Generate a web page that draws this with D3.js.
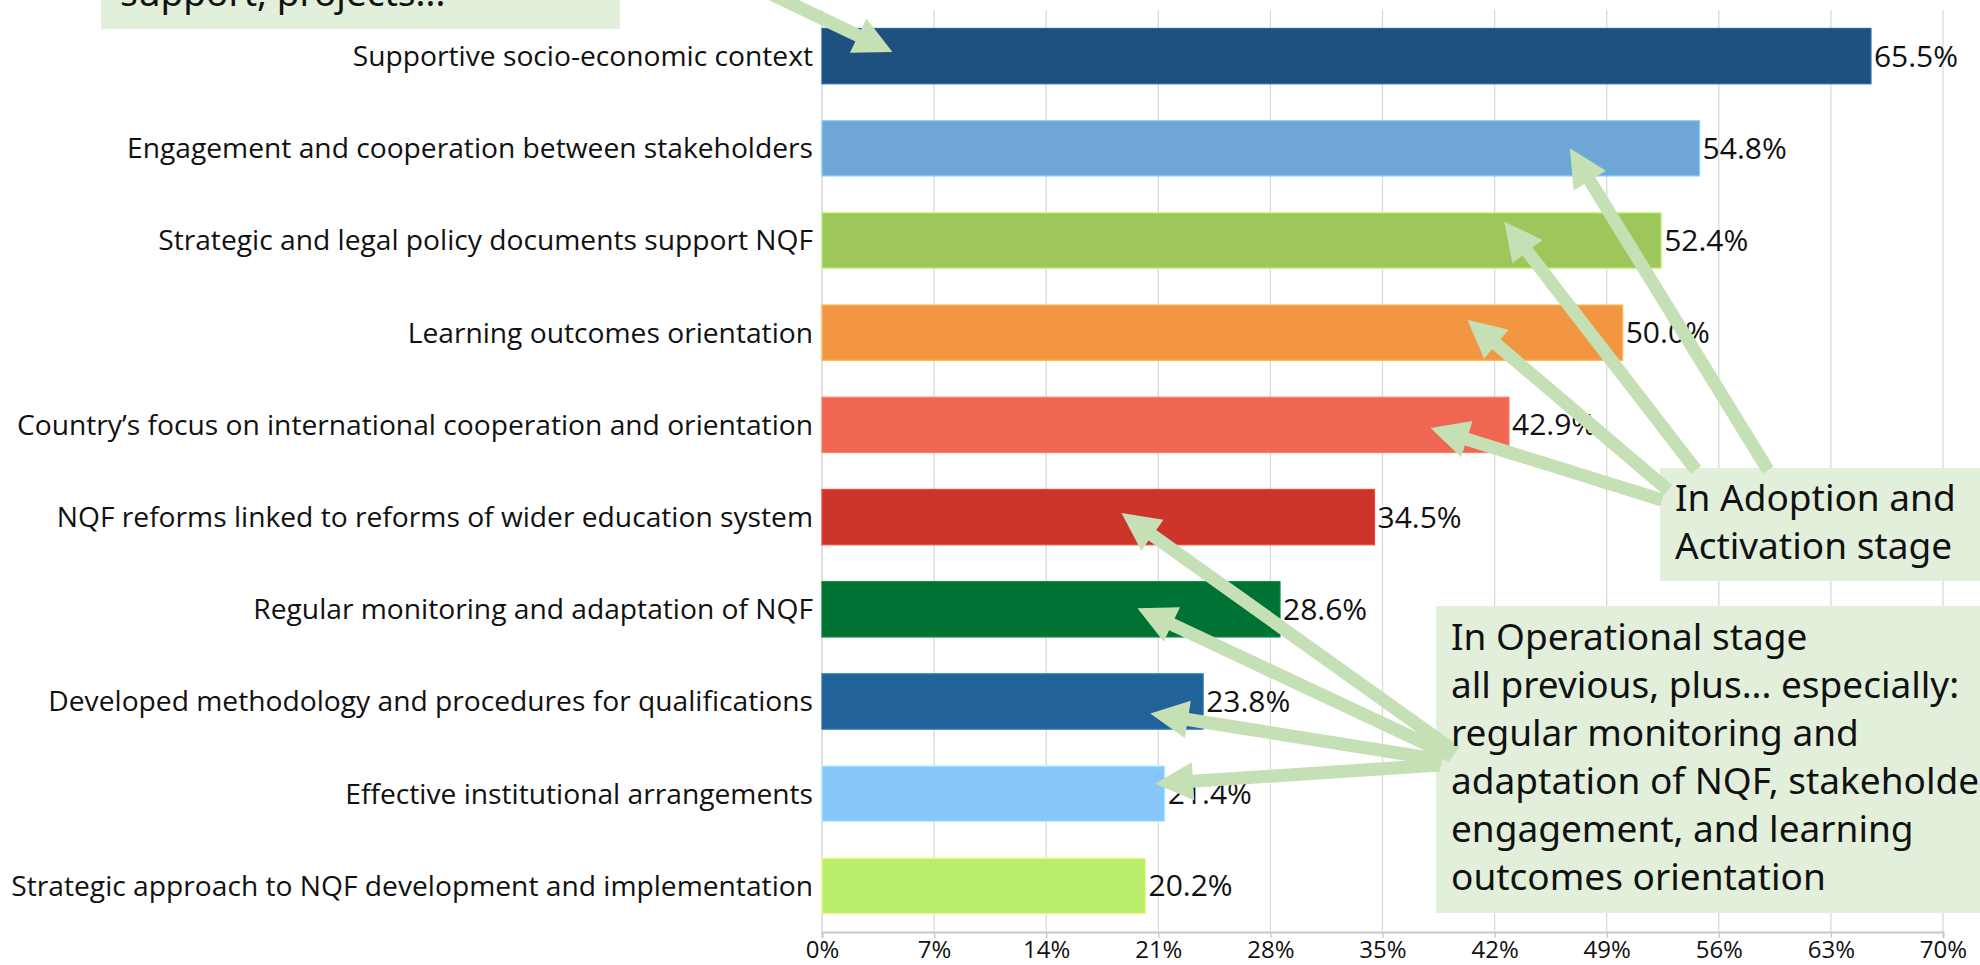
<!DOCTYPE html>
<html>
<head>
<meta charset="utf-8">
<script src="https://cdn.jsdelivr.net/npm/d3@7"></script>
<style>
  html, body { margin: 0; padding: 0; background: #fff; }
  svg { display: block; }
  .cat, .val, .tick text { font-family: "Open Sans", sans-serif; fill: #111; }
  .note { font-family: "Noto Sans", sans-serif; fill: #111; }
</style>
</head>
<body>
<div id="chart"></div>
<script>
// chart data
var categories = [
  'Supportive socio-economic context',
  'Engagement and cooperation between stakeholders',
  'Strategic and legal policy documents support NQF',
  'Learning outcomes orientation',
  'Country\u2019s focus on international cooperation and orientation',
  'NQF reforms linked to reforms of wider education system',
  'Regular monitoring and adaptation of NQF',
  'Developed methodology and procedures for qualifications',
  'Effective institutional arrangements',
  'Strategic approach to NQF development and implementation'
];
var values = [65.5, 54.8, 52.4, 50.0, 42.9, 34.5, 28.6, 23.8, 21.4, 20.2];
var barColors = ['#1f5180', '#6ea7d6', '#9dc75a', '#f39642', '#ef6652',
                 '#cc352a', '#007233', '#216298', '#86c6fa', '#bbed6c'];
var tickValues = [0, 7, 14, 21, 28, 35, 42, 49, 56, 63, 70];

// callouts: which bar and where along it (percent) each arrow points
var adoptionArrows = [
  { cat: 1, at: 46.7, dy: 0,   from: [1768, 470] },
  { cat: 2, at: 42.6, dy: -19, from: [1696, 470] },
  { cat: 3, at: 40.3, dy: -13, from: [1668, 490] },
  { cat: 4, at: 38.0, dy: 3,   from: [1662, 500] }
];
var operationalArrows = [
  { cat: 5, at: 18.7, dy: -4,  from: [1456, 752] },
  { cat: 6, at: 19.7, dy: -1,  from: [1452, 756] },
  { cat: 7, at: 20.5, dy: 12,  from: [1442, 760] },
  { cat: 8, at: 20.8, dy: -10, from: [1440, 765] }
];
var topArrow = { cat: 0, at: 4.4, dy: -4, from: [700, -40] };

var W = 1980, H = 965;
var svg = d3.select('#chart').append('svg')
  .attr('width', W).attr('height', H);

var x = d3.scaleLinear().domain([0, 70]).range([822, 1943]);
var y = d3.scaleBand().domain(categories).range([10, 932])
  .paddingInner(0.4).paddingOuter(0.2);

// grid
svg.append('g').selectAll('line')
  .data(tickValues.slice(1))
  .enter().append('line')
  .attr('x1', function (d) { return x(d); })
  .attr('x2', function (d) { return x(d); })
  .attr('y1', 10).attr('y2', 932)
  .attr('stroke', '#d9d9d9').attr('stroke-width', 1.3);

// x axis
var xAxis = svg.append('g')
  .attr('transform', 'translate(0,932)')
  .call(d3.axisBottom(x).tickValues(tickValues)
    .tickFormat(function (d) { return d + '%'; })
    .tickSize(6).tickPadding(3));
xAxis.select('.domain').attr('stroke', '#c8c8c8').attr('stroke-width', 2);
xAxis.selectAll('.tick line').attr('stroke', '#c8c8c8').attr('stroke-width', 1.3);
xAxis.selectAll('.tick text').attr('font-size', 24);

// left baseline
svg.append('line')
  .attr('x1', x(0)).attr('x2', x(0)).attr('y1', 10).attr('y2', 932)
  .attr('stroke', '#d0d0d0').attr('stroke-width', 1.3);

// bars
svg.append('g').selectAll('rect')
  .data(values)
  .enter().append('rect')
  .attr('x', x(0))
  .attr('y', function (d, i) { return y(categories[i]); })
  .attr('width', function (d) { return x(d) - x(0); })
  .attr('height', y.bandwidth())
  .attr('fill', function (d, i) { return barColors[i]; })
  .attr('stroke', function (d, i) { return d3.color(barColors[i]).brighter(0.6); })
  .attr('stroke-width', 1.2);

// category labels
svg.append('g').selectAll('text')
  .data(categories)
  .enter().append('text')
  .attr('class', 'cat')
  .attr('x', x(0) - 9)
  .attr('y', function (d) { return y(d) + y.bandwidth() / 2; })
  .attr('dy', '0.35em')
  .attr('text-anchor', 'end')
  .attr('font-size', 28.2)
  .text(function (d) { return d; });

// value labels
svg.append('g').selectAll('text')
  .data(values)
  .enter().append('text')
  .attr('class', 'val')
  .attr('x', function (d) { return x(d) + 3; })
  .attr('y', function (d, i) { return y(categories[i]) + y.bandwidth() / 2; })
  .attr('dy', '0.35em')
  .attr('font-size', 30)
  .text(function (d) { return d.toFixed(1) + '%'; });

// annotation boxes
var boxFill = '#e2efda';
var arrowFill = '#c5e0b4';

function note(x0, y0, w, h) {
  svg.append('rect').attr('x', x0).attr('y', y0).attr('width', w).attr('height', h)
    .attr('fill', boxFill);
}
function noteText(lines, tx, ty) {
  var t = svg.append('text').attr('class', 'note').attr('font-size', 37);
  lines.forEach(function (s, i) {
    t.append('tspan').attr('x', tx).attr('y', ty + i * 48).text(s);
  });
}

note(101, -60, 519, 89);
note(1660, 468, 340, 113);
note(1436, 606, 600, 307);

function arrowPath(x1, y1, x2, y2) {
  var dx = x2 - x1, dy = y2 - y1, len = Math.sqrt(dx * dx + dy * dy);
  var ux = dx / len, uy = dy / len, nx = -uy, ny = ux;
  var sw = 6.5, hw = 19, hl = 38;
  var bx = x2 - ux * hl, by = y2 - uy * hl;
  var pts = [
    [x1 + nx * sw, y1 + ny * sw],
    [bx + nx * sw, by + ny * sw],
    [bx + nx * hw, by + ny * hw],
    [x2, y2],
    [bx - nx * hw, by - ny * hw],
    [bx - nx * sw, by - ny * sw],
    [x1 - nx * sw, y1 - ny * sw]
  ];
  return 'M' + pts.map(function (p) { return p[0] + ',' + p[1]; }).join('L') + 'Z';
}

var allArrows = [topArrow].concat(adoptionArrows, operationalArrows);
svg.append('g').selectAll('path')
  .data(allArrows)
  .enter().append('path')
  .attr('d', function (a) {
    var tx = x(a.at);
    var ty = y(categories[a.cat]) + y.bandwidth() / 2 + a.dy;
    return arrowPath(a.from[0], a.from[1], tx, ty);
  })
  .attr('fill', arrowFill);

noteText(['support, projects...'], 120, 6);
noteText(['In Adoption and', 'Activation stage'], 1675, 511);
noteText(['In Operational stage',
          'all previous, plus... especially:',
          'regular monitoring and',
          'adaptation of NQF, stakeholder',
          'engagement, and learning',
          'outcomes orientation'], 1451, 650);
</script>
</body>
</html>
